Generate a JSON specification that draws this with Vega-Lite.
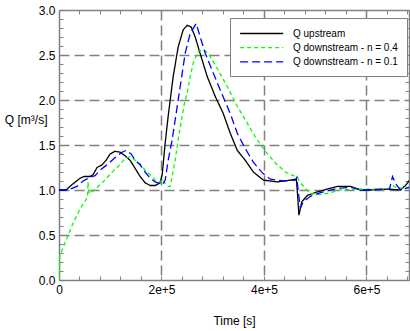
{
  "$schema": "https://vega.github.io/schema/vega-lite/v6.json",
  "width": 350,
  "height": 270,
  "autosize": {"type": "none"},
  "padding": {"left": 59, "top": 10, "right": 1, "bottom": 51},
  "background": "white",
  "config": {
    "view": {"stroke": null},
    "font": "Liberation Sans",
    "axis": {
      "labelFont": "Liberation Sans",
      "labelFontSize": 12,
      "labelColor": "#000000",
      "labelFlush": false,
      "titleFont": "Liberation Sans",
      "titleFontSize": 12,
      "titleFontWeight": "normal",
      "titleColor": "#000000",
      "domainColor": "#808080",
      "domainWidth": 1.5,
      "tickColor": "#808080",
      "tickWidth": 1,
      "tickSize": -4,
      "labelPadding": 8,
      "gridColor": "#808080",
      "gridWidth": 1.5,
      "gridDash": [10, 5]
    }
  },
  "data": {
    "values": [
      {"s": "Q upstream", "t": 0, "q": 1.0},
      {"s": "Q upstream", "t": 13682, "q": 1.0},
      {"s": "Q upstream", "t": 25409, "q": 1.06},
      {"s": "Q upstream", "t": 41045, "q": 1.13},
      {"s": "Q upstream", "t": 48863, "q": 1.15},
      {"s": "Q upstream", "t": 60590, "q": 1.15},
      {"s": "Q upstream", "t": 66453, "q": 1.17},
      {"s": "Q upstream", "t": 74271, "q": 1.25},
      {"s": "Q upstream", "t": 84044, "q": 1.28},
      {"s": "Q upstream", "t": 91862, "q": 1.33},
      {"s": "Q upstream", "t": 99680, "q": 1.40},
      {"s": "Q upstream", "t": 109452, "q": 1.43},
      {"s": "Q upstream", "t": 119225, "q": 1.42},
      {"s": "Q upstream", "t": 128997, "q": 1.38},
      {"s": "Q upstream", "t": 138770, "q": 1.33},
      {"s": "Q upstream", "t": 148542, "q": 1.24},
      {"s": "Q upstream", "t": 158315, "q": 1.15},
      {"s": "Q upstream", "t": 168087, "q": 1.08},
      {"s": "Q upstream", "t": 177860, "q": 1.05},
      {"s": "Q upstream", "t": 187632, "q": 1.05},
      {"s": "Q upstream", "t": 197405, "q": 1.08},
      {"s": "Q upstream", "t": 201314, "q": 1.17},
      {"s": "Q upstream", "t": 207177, "q": 1.52},
      {"s": "Q upstream", "t": 213041, "q": 1.82},
      {"s": "Q upstream", "t": 222813, "q": 2.26},
      {"s": "Q upstream", "t": 232586, "q": 2.59},
      {"s": "Q upstream", "t": 242358, "q": 2.78},
      {"s": "Q upstream", "t": 250176, "q": 2.83},
      {"s": "Q upstream", "t": 257994, "q": 2.81},
      {"s": "Q upstream", "t": 265812, "q": 2.70},
      {"s": "Q upstream", "t": 273630, "q": 2.55},
      {"s": "Q upstream", "t": 289266, "q": 2.26},
      {"s": "Q upstream", "t": 304902, "q": 2.04},
      {"s": "Q upstream", "t": 320538, "q": 1.85},
      {"s": "Q upstream", "t": 334220, "q": 1.63},
      {"s": "Q upstream", "t": 347901, "q": 1.44},
      {"s": "Q upstream", "t": 363537, "q": 1.33},
      {"s": "Q upstream", "t": 379173, "q": 1.2},
      {"s": "Q upstream", "t": 398718, "q": 1.11},
      {"s": "Q upstream", "t": 426081, "q": 1.09},
      {"s": "Q upstream", "t": 451489, "q": 1.11},
      {"s": "Q upstream", "t": 463217, "q": 1.12},
      {"s": "Q upstream", "t": 466148, "q": 0.9},
      {"s": "Q upstream", "t": 468103, "q": 0.72},
      {"s": "Q upstream", "t": 473966, "q": 0.87},
      {"s": "Q upstream", "t": 484716, "q": 0.94},
      {"s": "Q upstream", "t": 504441, "q": 0.98},
      {"s": "Q upstream", "t": 523794, "q": 1.01},
      {"s": "Q upstream", "t": 543345, "q": 1.04},
      {"s": "Q upstream", "t": 568760, "q": 1.04},
      {"s": "Q upstream", "t": 588285, "q": 1.0},
      {"s": "Q upstream", "t": 607970, "q": 1.0},
      {"s": "Q upstream", "t": 641074, "q": 1.01},
      {"s": "Q upstream", "t": 666435, "q": 1.0},
      {"s": "Q upstream", "t": 676208, "q": 1.05},
      {"s": "Q upstream", "t": 684080, "q": 1.11},

      {"s": "Q downstream - n = 0.4", "t": 1000, "q": 0},
      {"s": "Q downstream - n = 0.4", "t": 1500, "q": 0.27},
      {"s": "Q downstream - n = 0.4", "t": 5864, "q": 0.33},
      {"s": "Q downstream - n = 0.4", "t": 11727, "q": 0.41},
      {"s": "Q downstream - n = 0.4", "t": 19545, "q": 0.52},
      {"s": "Q downstream - n = 0.4", "t": 27363, "q": 0.63},
      {"s": "Q downstream - n = 0.4", "t": 35181, "q": 0.72},
      {"s": "Q downstream - n = 0.4", "t": 41045, "q": 0.79},
      {"s": "Q downstream - n = 0.4", "t": 48863, "q": 0.86},
      {"s": "Q downstream - n = 0.4", "t": 55703, "q": 0.92},
      {"s": "Q downstream - n = 0.4", "t": 56681, "q": 1.09},
      {"s": "Q downstream - n = 0.4", "t": 57658, "q": 1.0},
      {"s": "Q downstream - n = 0.4", "t": 59612, "q": 0.96},
      {"s": "Q downstream - n = 0.4", "t": 66453, "q": 0.99},
      {"s": "Q downstream - n = 0.4", "t": 76226, "q": 1.04},
      {"s": "Q downstream - n = 0.4", "t": 85998, "q": 1.09},
      {"s": "Q downstream - n = 0.4", "t": 95771, "q": 1.15},
      {"s": "Q downstream - n = 0.4", "t": 105543, "q": 1.21},
      {"s": "Q downstream - n = 0.4", "t": 115316, "q": 1.26},
      {"s": "Q downstream - n = 0.4", "t": 128997, "q": 1.35},
      {"s": "Q downstream - n = 0.4", "t": 138770, "q": 1.37},
      {"s": "Q downstream - n = 0.4", "t": 148542, "q": 1.33},
      {"s": "Q downstream - n = 0.4", "t": 158315, "q": 1.29},
      {"s": "Q downstream - n = 0.4", "t": 168087, "q": 1.22},
      {"s": "Q downstream - n = 0.4", "t": 177860, "q": 1.17},
      {"s": "Q downstream - n = 0.4", "t": 187632, "q": 1.11},
      {"s": "Q downstream - n = 0.4", "t": 197405, "q": 1.09},
      {"s": "Q downstream - n = 0.4", "t": 203268, "q": 1.12},
      {"s": "Q downstream - n = 0.4", "t": 207177, "q": 1.07},
      {"s": "Q downstream - n = 0.4", "t": 213041, "q": 1.04},
      {"s": "Q downstream - n = 0.4", "t": 216950, "q": 1.04},
      {"s": "Q downstream - n = 0.4", "t": 220859, "q": 1.15},
      {"s": "Q downstream - n = 0.4", "t": 226722, "q": 1.33},
      {"s": "Q downstream - n = 0.4", "t": 232586, "q": 1.56},
      {"s": "Q downstream - n = 0.4", "t": 238449, "q": 1.76},
      {"s": "Q downstream - n = 0.4", "t": 244313, "q": 1.95},
      {"s": "Q downstream - n = 0.4", "t": 250176, "q": 2.08},
      {"s": "Q downstream - n = 0.4", "t": 256040, "q": 2.26},
      {"s": "Q downstream - n = 0.4", "t": 261903, "q": 2.41},
      {"s": "Q downstream - n = 0.4", "t": 271676, "q": 2.54},
      {"s": "Q downstream - n = 0.4", "t": 281448, "q": 2.56},
      {"s": "Q downstream - n = 0.4", "t": 291221, "q": 2.52},
      {"s": "Q downstream - n = 0.4", "t": 308811, "q": 2.35},
      {"s": "Q downstream - n = 0.4", "t": 328356, "q": 2.15},
      {"s": "Q downstream - n = 0.4", "t": 345946, "q": 1.95},
      {"s": "Q downstream - n = 0.4", "t": 363537, "q": 1.78},
      {"s": "Q downstream - n = 0.4", "t": 383082, "q": 1.59},
      {"s": "Q downstream - n = 0.4", "t": 402627, "q": 1.43},
      {"s": "Q downstream - n = 0.4", "t": 422172, "q": 1.3},
      {"s": "Q downstream - n = 0.4", "t": 441717, "q": 1.2},
      {"s": "Q downstream - n = 0.4", "t": 457353, "q": 1.16},
      {"s": "Q downstream - n = 0.4", "t": 465171, "q": 1.14},
      {"s": "Q downstream - n = 0.4", "t": 471035, "q": 1.08},
      {"s": "Q downstream - n = 0.4", "t": 478853, "q": 1.03},
      {"s": "Q downstream - n = 0.4", "t": 490580, "q": 0.96},
      {"s": "Q downstream - n = 0.4", "t": 510119, "q": 0.95},
      {"s": "Q downstream - n = 0.4", "t": 529696, "q": 0.97},
      {"s": "Q downstream - n = 0.4", "t": 549106, "q": 1.0},
      {"s": "Q downstream - n = 0.4", "t": 578531, "q": 1.01},
      {"s": "Q downstream - n = 0.4", "t": 607970, "q": 1.01},
      {"s": "Q downstream - n = 0.4", "t": 637161, "q": 1.01},
      {"s": "Q downstream - n = 0.4", "t": 644982, "q": 1.02},
      {"s": "Q downstream - n = 0.4", "t": 650832, "q": 1.05},
      {"s": "Q downstream - n = 0.4", "t": 660609, "q": 1.02},
      {"s": "Q downstream - n = 0.4", "t": 684080, "q": 1.03},

      {"s": "Q downstream - n = 0.1", "t": 0, "q": 1.0},
      {"s": "Q downstream - n = 0.1", "t": 17591, "q": 1.0},
      {"s": "Q downstream - n = 0.1", "t": 35181, "q": 1.04},
      {"s": "Q downstream - n = 0.1", "t": 46908, "q": 1.1},
      {"s": "Q downstream - n = 0.1", "t": 60590, "q": 1.14},
      {"s": "Q downstream - n = 0.1", "t": 70362, "q": 1.16},
      {"s": "Q downstream - n = 0.1", "t": 80135, "q": 1.22},
      {"s": "Q downstream - n = 0.1", "t": 95771, "q": 1.29},
      {"s": "Q downstream - n = 0.1", "t": 113361, "q": 1.38},
      {"s": "Q downstream - n = 0.1", "t": 123134, "q": 1.42},
      {"s": "Q downstream - n = 0.1", "t": 130952, "q": 1.44},
      {"s": "Q downstream - n = 0.1", "t": 140724, "q": 1.4},
      {"s": "Q downstream - n = 0.1", "t": 148542, "q": 1.33},
      {"s": "Q downstream - n = 0.1", "t": 158315, "q": 1.28},
      {"s": "Q downstream - n = 0.1", "t": 168087, "q": 1.2},
      {"s": "Q downstream - n = 0.1", "t": 177860, "q": 1.13},
      {"s": "Q downstream - n = 0.1", "t": 187632, "q": 1.09},
      {"s": "Q downstream - n = 0.1", "t": 197405, "q": 1.07},
      {"s": "Q downstream - n = 0.1", "t": 203268, "q": 1.07},
      {"s": "Q downstream - n = 0.1", "t": 207177, "q": 1.11},
      {"s": "Q downstream - n = 0.1", "t": 213041, "q": 1.33},
      {"s": "Q downstream - n = 0.1", "t": 220859, "q": 1.56},
      {"s": "Q downstream - n = 0.1", "t": 226722, "q": 1.78},
      {"s": "Q downstream - n = 0.1", "t": 236495, "q": 2.15},
      {"s": "Q downstream - n = 0.1", "t": 246267, "q": 2.52},
      {"s": "Q downstream - n = 0.1", "t": 256040, "q": 2.74},
      {"s": "Q downstream - n = 0.1", "t": 267767, "q": 2.85},
      {"s": "Q downstream - n = 0.1", "t": 275585, "q": 2.7},
      {"s": "Q downstream - n = 0.1", "t": 285357, "q": 2.52},
      {"s": "Q downstream - n = 0.1", "t": 300993, "q": 2.3},
      {"s": "Q downstream - n = 0.1", "t": 314675, "q": 2.11},
      {"s": "Q downstream - n = 0.1", "t": 334220, "q": 1.85},
      {"s": "Q downstream - n = 0.1", "t": 347901, "q": 1.63},
      {"s": "Q downstream - n = 0.1", "t": 363537, "q": 1.46},
      {"s": "Q downstream - n = 0.1", "t": 379173, "q": 1.31},
      {"s": "Q downstream - n = 0.1", "t": 396763, "q": 1.19},
      {"s": "Q downstream - n = 0.1", "t": 412400, "q": 1.12},
      {"s": "Q downstream - n = 0.1", "t": 437808, "q": 1.1},
      {"s": "Q downstream - n = 0.1", "t": 461262, "q": 1.11},
      {"s": "Q downstream - n = 0.1", "t": 464194, "q": 1.14},
      {"s": "Q downstream - n = 0.1", "t": 467126, "q": 0.97},
      {"s": "Q downstream - n = 0.1", "t": 471035, "q": 0.8},
      {"s": "Q downstream - n = 0.1", "t": 476898, "q": 0.87},
      {"s": "Q downstream - n = 0.1", "t": 490580, "q": 0.93},
      {"s": "Q downstream - n = 0.1", "t": 510119, "q": 0.97},
      {"s": "Q downstream - n = 0.1", "t": 543345, "q": 1.02},
      {"s": "Q downstream - n = 0.1", "t": 568760, "q": 1.03},
      {"s": "Q downstream - n = 0.1", "t": 594158, "q": 1.0},
      {"s": "Q downstream - n = 0.1", "t": 627395, "q": 1.01},
      {"s": "Q downstream - n = 0.1", "t": 644982, "q": 1.01},
      {"s": "Q downstream - n = 0.1", "t": 650832, "q": 1.15},
      {"s": "Q downstream - n = 0.1", "t": 656706, "q": 1.07},
      {"s": "Q downstream - n = 0.1", "t": 666435, "q": 1.0},
      {"s": "Q downstream - n = 0.1", "t": 684080, "q": 1.03}
    ]
  },
  "layer": [
    {
      "mark": {"type": "line", "strokeWidth": 1.3, "clip": true},
      "encoding": {
        "x": {
          "field": "t",
          "type": "quantitative",
          "scale": {"domain": [0, 683000], "nice": false, "zero": false},
          "axis": {
            "orient": "bottom",
            "title": "Time [s]",
            "titleY": 44,
            "titleBaseline": "alphabetic",
            "values": [0, 40000, 80000, 120000, 160000, 200000, 240000, 280000, 320000, 360000, 400000, 440000, 480000, 520000, 560000, 600000, 640000, 680000],
            "labelExpr": "datum.value % 200000 === 0 ? (datum.value === 0 ? '0' : format(datum.value, '.0e')) : ''",
            "grid": true,
            "gridOpacity": {"condition": {"test": "datum.value % 200000 === 0 && datum.value > 0", "value": 1}, "value": 0}
          }
        },
        "y": {
          "field": "q",
          "type": "quantitative",
          "scale": {"domain": [0, 3], "nice": false},
          "axis": {
            "orient": "left",
            "title": "Q [m³/s]",
            "titleAngle": 0,
            "titleAlign": "right",
            "titleBaseline": "alphabetic",
            "titleX": -12,
            "titleY": 113,
            "values": [0, 0.1, 0.2, 0.3, 0.4, 0.5, 0.6, 0.7, 0.8, 0.9, 1, 1.1, 1.2, 1.3, 1.4, 1.5, 1.6, 1.7, 1.8, 1.9, 2, 2.1, 2.2, 2.3, 2.4, 2.5, 2.6, 2.7, 2.8, 2.9, 3],
            "labelExpr": "abs(datum.value * 2 - round(datum.value * 2)) < 0.001 ? format(datum.value, '.1f') : ''",
            "grid": true,
            "gridOpacity": {"condition": {"test": "abs(datum.value * 2 - round(datum.value * 2)) < 0.001 && datum.value > 0.01 && datum.value < 2.99", "value": 1}, "value": 0}
          }
        },
        "color": {
          "field": "s",
          "type": "nominal",
          "scale": {
            "domain": ["Q upstream", "Q downstream - n = 0.4", "Q downstream - n = 0.1"],
            "range": ["#000000", "#00ff00", "#0000ff"]
          },
          "legend": {
            "orient": "none",
            "legendX": 171,
            "legendY": 8,
            "title": null,
            "padding": 9,
            "rowPadding": 2.2,
            "fillColor": "white",
            "strokeColor": "#808080",
            "symbolType": "M-1,0H7",
            "symbolSize": 116,
            "symbolStrokeWidth": 1.3,
            "labelFont": "Liberation Sans",
            "labelFontSize": 10,
            "labelColor": "#000000",
            "labelOffset": 41
          }
        },
        "strokeDash": {
          "field": "s",
          "type": "nominal",
          "scale": {
            "domain": ["Q upstream", "Q downstream - n = 0.4", "Q downstream - n = 0.1"],
            "range": [[1, 0], [4, 3], [8, 4]]
          },
          "legend": {
            "orient": "none",
            "legendX": 171,
            "legendY": 8,
            "title": null,
            "padding": 9,
            "rowPadding": 2.2,
            "fillColor": "white",
            "strokeColor": "#808080",
            "symbolType": "M-1,0H7",
            "symbolSize": 116,
            "symbolStrokeWidth": 1.3,
            "labelFont": "Liberation Sans",
            "labelFontSize": 10,
            "labelColor": "#000000",
            "labelOffset": 41
          }
        }
      }
    },
    {
      "mark": {"type": "line", "opacity": 0},
      "encoding": {
        "x": {
          "field": "t",
          "type": "quantitative",
          "axis": {
            "orient": "top",
            "title": null,
            "labels": false,
            "grid": false,
            "values": [0, 40000, 80000, 120000, 160000, 200000, 240000, 280000, 320000, 360000, 400000, 440000, 480000, 520000, 560000, 600000, 640000, 680000]
          }
        },
        "y": {
          "field": "q",
          "type": "quantitative",
          "axis": {
            "orient": "right",
            "title": null,
            "labels": false,
            "grid": false,
            "values": [0, 0.1, 0.2, 0.3, 0.4, 0.5, 0.6, 0.7, 0.8, 0.9, 1, 1.1, 1.2, 1.3, 1.4, 1.5, 1.6, 1.7, 1.8, 1.9, 2, 2.1, 2.2, 2.3, 2.4, 2.5, 2.6, 2.7, 2.8, 2.9, 3]
          }
        },
        "detail": {"field": "s", "type": "nominal"}
      }
    }
  ],
  "resolve": {"axis": {"x": "independent", "y": "independent"}}
}
